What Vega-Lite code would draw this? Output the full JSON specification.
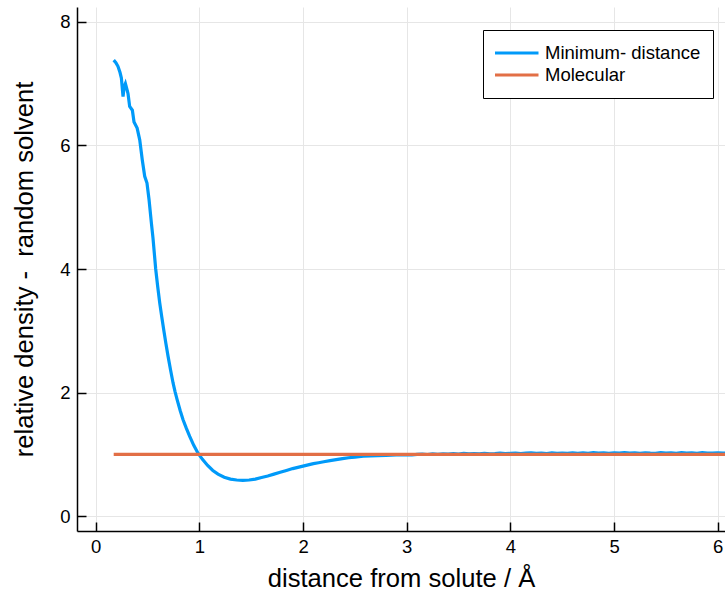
{
  "$schema": "https://vega.github.io/schema/vega-lite/v6.json",
  "width": 648,
  "height": 524,
  "autosize": {"type": "none"},
  "padding": {"left": 77, "top": 7, "right": 0, "bottom": 63},
  "background": "white",
  "config": {
    "view": {"stroke": null},
    "font": "Liberation Sans",
    "axis": {
      "grid": true,
      "gridColor": "#e6e6e6",
      "gridWidth": 1,
      "domainColor": "black",
      "domainWidth": 1.5,
      "tickColor": "black",
      "tickWidth": 1.5,
      "tickSize": -9,
      "labelFont": "Liberation Sans",
      "labelFontSize": 18.5,
      "labelColor": "black",
      "titleFont": "Liberation Sans",
      "titleFontSize": 25.6,
      "titleFontWeight": "normal",
      "titleColor": "black"
    }
  },
  "datasets": {
    "curves": [
      {"series": "Minimum- distance", "x": 0.174, "y": 7.38},
      {"series": "Minimum- distance", "x": 0.195, "y": 7.34},
      {"series": "Minimum- distance", "x": 0.215, "y": 7.28},
      {"series": "Minimum- distance", "x": 0.235, "y": 7.18},
      {"series": "Minimum- distance", "x": 0.248, "y": 7.09},
      {"series": "Minimum- distance", "x": 0.264, "y": 6.79},
      {"series": "Minimum- distance", "x": 0.275, "y": 6.95},
      {"series": "Minimum- distance", "x": 0.287, "y": 7.0},
      {"series": "Minimum- distance", "x": 0.3, "y": 6.92},
      {"series": "Minimum- distance", "x": 0.312, "y": 6.84},
      {"series": "Minimum- distance", "x": 0.328, "y": 6.63},
      {"series": "Minimum- distance", "x": 0.354, "y": 6.57},
      {"series": "Minimum- distance", "x": 0.37, "y": 6.38},
      {"series": "Minimum- distance", "x": 0.4, "y": 6.28},
      {"series": "Minimum- distance", "x": 0.425, "y": 6.09},
      {"series": "Minimum- distance", "x": 0.45, "y": 5.76},
      {"series": "Minimum- distance", "x": 0.473, "y": 5.5},
      {"series": "Minimum- distance", "x": 0.495, "y": 5.39},
      {"series": "Minimum- distance", "x": 0.515, "y": 5.12},
      {"series": "Minimum- distance", "x": 0.537, "y": 4.75},
      {"series": "Minimum- distance", "x": 0.553, "y": 4.5},
      {"series": "Minimum- distance", "x": 0.579, "y": 4.0},
      {"series": "Minimum- distance", "x": 0.598, "y": 3.72},
      {"series": "Minimum- distance", "x": 0.618, "y": 3.45},
      {"series": "Minimum- distance", "x": 0.637, "y": 3.23},
      {"series": "Minimum- distance", "x": 0.656, "y": 3.02},
      {"series": "Minimum- distance", "x": 0.677, "y": 2.8},
      {"series": "Minimum- distance", "x": 0.698, "y": 2.59},
      {"series": "Minimum- distance", "x": 0.722, "y": 2.37},
      {"series": "Minimum- distance", "x": 0.746, "y": 2.16},
      {"series": "Minimum- distance", "x": 0.765, "y": 2.02},
      {"series": "Minimum- distance", "x": 0.785, "y": 1.89},
      {"series": "Minimum- distance", "x": 0.815, "y": 1.71},
      {"series": "Minimum- distance", "x": 0.843, "y": 1.56},
      {"series": "Minimum- distance", "x": 0.875, "y": 1.42},
      {"series": "Minimum- distance", "x": 0.907, "y": 1.29},
      {"series": "Minimum- distance", "x": 0.945, "y": 1.15},
      {"series": "Minimum- distance", "x": 0.987, "y": 1.02},
      {"series": "Minimum- distance", "x": 1.03, "y": 0.92},
      {"series": "Minimum- distance", "x": 1.08, "y": 0.82},
      {"series": "Minimum- distance", "x": 1.13, "y": 0.74},
      {"series": "Minimum- distance", "x": 1.18, "y": 0.68},
      {"series": "Minimum- distance", "x": 1.24, "y": 0.63},
      {"series": "Minimum- distance", "x": 1.3, "y": 0.6},
      {"series": "Minimum- distance", "x": 1.36, "y": 0.585},
      {"series": "Minimum- distance", "x": 1.42, "y": 0.58},
      {"series": "Minimum- distance", "x": 1.48, "y": 0.585},
      {"series": "Minimum- distance", "x": 1.54, "y": 0.6},
      {"series": "Minimum- distance", "x": 1.6, "y": 0.625},
      {"series": "Minimum- distance", "x": 1.66, "y": 0.65},
      {"series": "Minimum- distance", "x": 1.72, "y": 0.68},
      {"series": "Minimum- distance", "x": 1.78, "y": 0.71},
      {"series": "Minimum- distance", "x": 1.84, "y": 0.74},
      {"series": "Minimum- distance", "x": 1.9, "y": 0.77},
      {"series": "Minimum- distance", "x": 1.95, "y": 0.79},
      {"series": "Minimum- distance", "x": 2.0, "y": 0.81},
      {"series": "Minimum- distance", "x": 2.05, "y": 0.83},
      {"series": "Minimum- distance", "x": 2.1, "y": 0.85},
      {"series": "Minimum- distance", "x": 2.15, "y": 0.865},
      {"series": "Minimum- distance", "x": 2.2, "y": 0.88},
      {"series": "Minimum- distance", "x": 2.26, "y": 0.9},
      {"series": "Minimum- distance", "x": 2.32, "y": 0.915},
      {"series": "Minimum- distance", "x": 2.38, "y": 0.93},
      {"series": "Minimum- distance", "x": 2.44, "y": 0.945},
      {"series": "Minimum- distance", "x": 2.5, "y": 0.955},
      {"series": "Minimum- distance", "x": 2.58, "y": 0.97},
      {"series": "Minimum- distance", "x": 2.65, "y": 0.975},
      {"series": "Minimum- distance", "x": 2.72, "y": 0.98},
      {"series": "Minimum- distance", "x": 2.8, "y": 0.985},
      {"series": "Minimum- distance", "x": 2.9, "y": 0.99},
      {"series": "Minimum- distance", "x": 3.0, "y": 0.995},
      {"series": "Minimum- distance", "x": 3.05, "y": 0.99},
      {"series": "Minimum- distance", "x": 3.1, "y": 1.0},
      {"series": "Minimum- distance", "x": 3.15, "y": 1.005},
      {"series": "Minimum- distance", "x": 3.2, "y": 0.998},
      {"series": "Minimum- distance", "x": 3.25, "y": 1.008},
      {"series": "Minimum- distance", "x": 3.3, "y": 1.002},
      {"series": "Minimum- distance", "x": 3.35, "y": 1.01},
      {"series": "Minimum- distance", "x": 3.4, "y": 1.004},
      {"series": "Minimum- distance", "x": 3.45, "y": 1.012},
      {"series": "Minimum- distance", "x": 3.5, "y": 1.006},
      {"series": "Minimum- distance", "x": 3.55, "y": 1.015},
      {"series": "Minimum- distance", "x": 3.6, "y": 1.008},
      {"series": "Minimum- distance", "x": 3.65, "y": 1.013},
      {"series": "Minimum- distance", "x": 3.7, "y": 1.009},
      {"series": "Minimum- distance", "x": 3.75, "y": 1.018},
      {"series": "Minimum- distance", "x": 3.8, "y": 1.01},
      {"series": "Minimum- distance", "x": 3.85, "y": 1.014},
      {"series": "Minimum- distance", "x": 3.9, "y": 1.02},
      {"series": "Minimum- distance", "x": 3.95, "y": 1.011},
      {"series": "Minimum- distance", "x": 4.0, "y": 1.016},
      {"series": "Minimum- distance", "x": 4.05, "y": 1.022},
      {"series": "Minimum- distance", "x": 4.1, "y": 1.012},
      {"series": "Minimum- distance", "x": 4.15, "y": 1.019},
      {"series": "Minimum- distance", "x": 4.2, "y": 1.025},
      {"series": "Minimum- distance", "x": 4.25, "y": 1.015},
      {"series": "Minimum- distance", "x": 4.3, "y": 1.021},
      {"series": "Minimum- distance", "x": 4.35, "y": 1.014},
      {"series": "Minimum- distance", "x": 4.4, "y": 1.024},
      {"series": "Minimum- distance", "x": 4.45, "y": 1.017},
      {"series": "Minimum- distance", "x": 4.5, "y": 1.022},
      {"series": "Minimum- distance", "x": 4.55, "y": 1.016},
      {"series": "Minimum- distance", "x": 4.6, "y": 1.026},
      {"series": "Minimum- distance", "x": 4.65, "y": 1.018},
      {"series": "Minimum- distance", "x": 4.7, "y": 1.023},
      {"series": "Minimum- distance", "x": 4.75, "y": 1.015},
      {"series": "Minimum- distance", "x": 4.8, "y": 1.027},
      {"series": "Minimum- distance", "x": 4.85, "y": 1.02},
      {"series": "Minimum- distance", "x": 4.9, "y": 1.024},
      {"series": "Minimum- distance", "x": 4.95, "y": 1.017},
      {"series": "Minimum- distance", "x": 5.0, "y": 1.025},
      {"series": "Minimum- distance", "x": 5.05, "y": 1.019},
      {"series": "Minimum- distance", "x": 5.1, "y": 1.028},
      {"series": "Minimum- distance", "x": 5.15, "y": 1.02},
      {"series": "Minimum- distance", "x": 5.2, "y": 1.024},
      {"series": "Minimum- distance", "x": 5.25, "y": 1.016},
      {"series": "Minimum- distance", "x": 5.3, "y": 1.026},
      {"series": "Minimum- distance", "x": 5.35, "y": 1.021},
      {"series": "Minimum- distance", "x": 5.4, "y": 1.018},
      {"series": "Minimum- distance", "x": 5.45, "y": 1.027},
      {"series": "Minimum- distance", "x": 5.5, "y": 1.02},
      {"series": "Minimum- distance", "x": 5.55, "y": 1.025},
      {"series": "Minimum- distance", "x": 5.6, "y": 1.018},
      {"series": "Minimum- distance", "x": 5.65, "y": 1.028},
      {"series": "Minimum- distance", "x": 5.7, "y": 1.021},
      {"series": "Minimum- distance", "x": 5.75, "y": 1.024},
      {"series": "Minimum- distance", "x": 5.8, "y": 1.017},
      {"series": "Minimum- distance", "x": 5.85, "y": 1.027},
      {"series": "Minimum- distance", "x": 5.9, "y": 1.022},
      {"series": "Minimum- distance", "x": 5.95, "y": 1.019},
      {"series": "Minimum- distance", "x": 6.0, "y": 1.026},
      {"series": "Minimum- distance", "x": 6.05, "y": 1.02},
      {"series": "Minimum- distance", "x": 6.1, "y": 1.024},
      {"series": "Molecular", "x": 0.174, "y": 1.0},
      {"series": "Molecular", "x": 6.2, "y": 1.0}
    ]
  },
  "data": {"name": "curves"},
  "encoding": {
    "x": {
      "field": "x",
      "type": "quantitative",
      "scale": {"domain": [-0.18, 6.07], "nice": false, "zero": false},
      "axis": {"values": [0, 1, 2, 3, 4, 5, 6], "title": "distance from solute / Å", "labelPadding": 15, "titlePadding": 11}
    },
    "y": {
      "field": "y",
      "type": "quantitative",
      "scale": {"domain": [-0.24, 8.24], "nice": false, "zero": false},
      "axis": {"values": [0, 2, 4, 6, 8], "title": "relative density -\u00a0\u00a0random solvent", "labelPadding": 16, "titlePadding": 22}
    },
    "color": {
      "field": "series",
      "type": "nominal",
      "scale": {"domain": ["Minimum- distance", "Molecular"], "range": ["#009af9", "#e26f46"]},
      "legend": {
        "title": null,
        "orient": "none",
        "legendX": 406,
        "legendY": 23,
        "strokeColor": "black",
        "fillColor": "white",
        "padding": 12,
        "symbolType": "stroke",
        "symbolSize": 2025,
        "symbolStrokeWidth": 3,
        "symbolOffset": -3,
        "clipHeight": 22,
        "rowPadding": 0,
        "labelOffset": 5,
        "labelFont": "Liberation Sans",
        "labelFontSize": 18.5,
        "labelColor": "black"
      }
    }
  },
  "layer": [
    {
      "transform": [{"filter": "datum.series === 'Minimum- distance'"}],
      "mark": {"type": "line", "strokeWidth": 3.2, "clip": true}
    },
    {
      "transform": [{"filter": "datum.series === 'Molecular'"}],
      "mark": {"type": "line", "strokeWidth": 3.2, "clip": true}
    }
  ]
}
